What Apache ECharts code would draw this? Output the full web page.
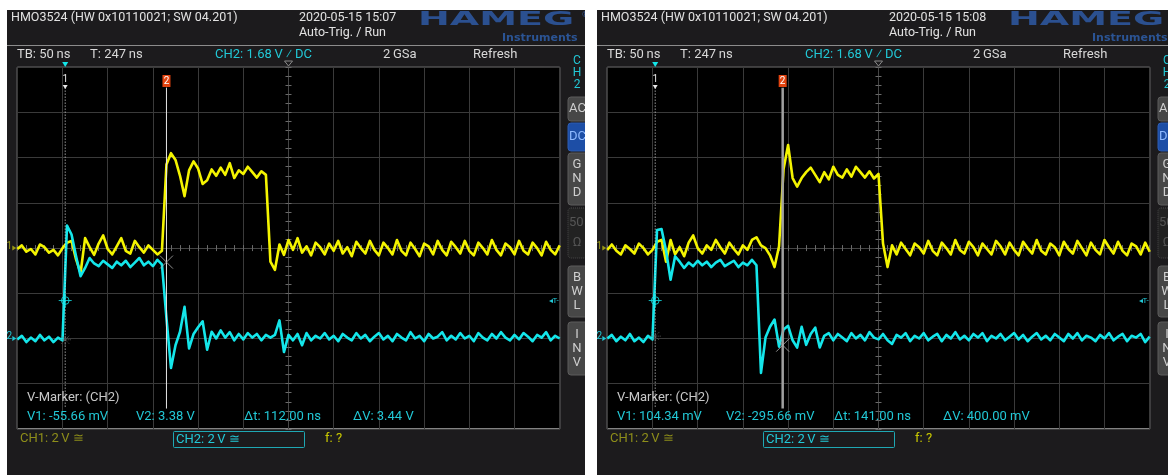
<!DOCTYPE html>
<html>
<head>
<meta charset="utf-8">
<title>HMO3524 screen captures</title>
<script src="https://cdn.jsdelivr.net/npm/echarts@6/dist/echarts.min.js"></script>
<style>
  html, body { margin: 0; padding: 0; background: #fff; }
  #chart { width: 1168px; height: 475px; }
</style>
</head>
<body>
<div id="chart"></div>
<script>
// time axis in ns from screen centre, one sample every 5 ns (TB 50 ns/div, 12 div)
const T_START = -300;
const T_STEP = 5;

// traces, in divisions from screen centre (2 V/div)
const ch1Left = [
  -0.02, 0.06, -0.08, -0.02, -0.14, 0.08, 0.02, -0.10, -0.04, -0.16,
  0.00, 0.12, 0.16, -0.25, -0.55, 0.22, 0.02, -0.15, 0.10, 0.28,
  -0.02, -0.14, 0.04, 0.22, -0.06, -0.12, 0.16, 0.02, -0.10, 0.06,
  -0.04, -0.14, -0.06, 1.85, 2.10, 1.95, 1.60, 1.15, 1.72, 1.92,
  1.76, 1.42, 1.50, 1.74, 1.60, 1.78, 1.62, 1.88, 1.55, 1.72,
  1.64, 1.80, 1.68, 1.56, 1.70, 1.62, -0.30, -0.48, 0.08, -0.15,
  0.18, -0.04, 0.22, -0.10, 0.04, -0.16, 0.12, 0.02, -0.14, 0.10,
  -0.06, 0.16, -0.12, 0.02, -0.18, 0.14, 0.00, -0.12, 0.16, -0.04,
  -0.16, 0.12, 0.00, -0.14, 0.18, -0.06, -0.16, 0.12, -0.02, -0.18,
  0.10, 0.04, -0.14, 0.16, -0.04, -0.16, 0.14, 0.02, -0.12, 0.16,
  -0.06, -0.16, 0.12, 0.00, -0.14, 0.18, -0.04, -0.16, 0.10, 0.02,
  -0.14, 0.16, -0.06, -0.14, 0.12, 0.00, -0.16, 0.14, -0.04, -0.14,
  0.06
];
const ch2Left = [
  -2.02, -1.94, -2.08, -1.98, -2.06, -1.92, -2.04, -1.96, -2.08, -1.98,
  -2.04, 0.50, 0.30, -0.18, -0.62, -0.44, -0.22, -0.34, -0.40, -0.28,
  -0.36, -0.44, -0.30, -0.38, -0.28, -0.42, -0.32, -0.22, -0.38, -0.30,
  -0.40, -0.26, -0.36, -1.55, -2.65, -2.15, -1.85, -1.30, -2.22, -1.90,
  -1.75, -1.62, -2.25, -1.85, -2.00, -1.82, -1.98, -1.86, -2.04, -1.90,
  -2.02, -1.88, -1.98, -1.90, -2.04, -1.92, -1.98, -1.92, -1.60, -2.30,
  -1.92, -2.04, -1.90, -2.15, -1.88, -2.04, -1.94, -2.00, -1.88, -2.02,
  -1.94, -2.06, -1.90, -1.98, -2.04, -1.88, -2.00, -1.92, -2.06, -1.96,
  -1.88, -2.02, -1.94, -2.06, -1.90, -1.98, -2.04, -1.86, -2.00, -1.94,
  -2.06, -1.90, -2.00, -1.96, -1.86, -2.04, -1.94, -2.02, -1.88, -2.00,
  -1.94, -2.06, -1.88, -1.98, -2.04, -1.90, -2.00, -1.86, -1.98, -2.04,
  -1.92, -2.02, -1.88, -1.96, -2.06, -1.92, -1.98, -1.86, -2.04, -1.94,
  -2.00
];
const ch1Right = [
  -0.04, 0.08, -0.06, -0.14, 0.06, -0.02, -0.12, 0.10, 0.00, -0.14,
  -0.04, 0.14, 0.18, -0.30, 0.18, -0.14, 0.02, -0.18, 0.12, 0.28,
  0.00, -0.12, 0.06, -0.04, 0.18, 0.02, -0.12, 0.12, -0.02, -0.14,
  0.06, -0.04, 0.18, 0.24, 0.06, 0.00, -0.16, -0.42, 0.04, 1.75,
  2.28, 1.55, 1.36, 1.55, 1.68, 1.78, 1.62, 1.46, 1.68, 1.52,
  1.80, 1.62, 1.56, 1.74, 1.58, 1.80, 1.68, 1.56, 1.70, 1.54,
  1.64, 0.10, -0.42, 0.06, -0.14, 0.12, -0.02, -0.16, 0.10, 0.02,
  -0.12, 0.16, -0.06, -0.16, 0.12, 0.00, -0.14, 0.18, -0.04, -0.12,
  0.14, 0.02, -0.16, 0.10, -0.02, -0.14, 0.16, 0.04, -0.14, 0.12,
  -0.04, -0.16, 0.14, 0.00, -0.12, 0.18, -0.06, -0.14, 0.10, 0.02,
  -0.16, 0.14, -0.02, -0.12, 0.16, 0.00, -0.16, 0.12, -0.04, -0.14,
  0.18, 0.02, -0.12, 0.14, -0.06, -0.16, 0.10, 0.04, -0.14, 0.12,
  -0.08
];
const ch2Right = [
  -2.00, -1.92, -2.06, -1.96, -2.04, -1.90, -2.06, -1.98, -2.08, -1.94,
  -2.02, 0.40, 0.42, -0.06, -0.70, -0.18, -0.30, -0.44, -0.32, -0.40,
  -0.28, -0.38, -0.30, -0.42, -0.32, -0.26, -0.40, -0.34, -0.28, -0.42,
  -0.32, -0.38, -0.26, -0.38, -2.76, -1.98, -1.74, -1.58, -2.18, -1.80,
  -1.72, -2.04, -2.20, -1.74, -2.14, -1.90, -1.76, -2.20, -1.94, -1.88,
  -2.04, -1.90, -1.98, -2.06, -1.88, -2.00, -1.92, -2.04, -1.86, -1.98,
  -2.02, -1.90, -2.04, -2.12, -1.92, -1.98, -1.88, -2.06, -1.94, -2.00,
  -1.88, -2.04, -1.96, -1.90, -2.06, -1.92, -2.00, -1.86, -2.02, -1.94,
  -2.04, -1.90, -1.98, -1.88, -2.06, -1.94, -2.00, -1.90, -2.04, -1.96,
  -1.88, -2.02, -1.92, -2.06, -1.96, -1.88, -2.02, -1.94, -2.04, -1.90,
  -1.98, -2.06, -1.90, -2.00, -1.88, -2.04, -1.94, -1.98, -2.06, -1.92,
  -2.00, -1.88, -2.04, -1.96, -1.90, -2.06, -1.94, -1.98, -1.90, -2.08,
  -1.96
];

// cursors: time (ns) and CH2 voltage (V)
const markerTimes = [[-247, -135], [-247, -106]];
const markerVolts = [[-0.05566, 3.38], [0.10434, -0.29566]];
const triggerTime = -247;
const triggerLevel = 1.68;
const ch1Pos = 0;   // div
const ch2Pos = -2;  // div
const voltsPerDiv = 2;

const stamps = ['2020-05-15 15:07', '2020-05-15 15:08'];
const readouts = [
  ['V1: -55.66 mV', 'V2: 3.38 V', 'Δt: 112.00 ns', 'ΔV: 3.44 V'],
  ['V1: 104.34 mV', 'V2: -295.66 mV', 'Δt: 141.00 ns', 'ΔV: 400.00 mV']
];

const YELLOW = '#f4f400';
const CYAN = '#14e6ea';
const CYAN_TXT = '#22c8d6';
const PANEL_BG = '#1c1b1d';
const FONT = 'Roboto, "Liberation Sans", sans-serif';
const PANEL_DX = [0, 590];

const pts = arr => arr.map((v, i) => [T_START + i * T_STEP, v]);
const ch2Div = volts => ch2Pos + volts / voltsPerDiv;

const chart = echarts.init(document.getElementById('chart'));

// two axes per direction: one with ticks outward, one inward, both on the centre line
function axes(dim, g) {
  const isX = dim === 'x';
  const base = {
    gridIndex: g, type: 'value',
    min: isX ? -300 : -4, max: isX ? 300 : 4, interval: isX ? 50 : 1,
    position: isX ? 'bottom' : 'left',
    axisLabel: { show: false },
    axisLine: { show: true, onZero: true, lineStyle: { color: '#454545' } },
    axisTick: { show: true, length: 3, lineStyle: { color: '#6a6a6a' } },
    minorTick: { show: true, splitNumber: 5, length: 3, lineStyle: { color: '#6a6a6a' } },
    splitLine: { show: true, lineStyle: { color: '#3a3a3a', width: 1 } }
  };
  const inner = JSON.parse(JSON.stringify(base));
  inner.axisTick.inside = true;
  inner.splitLine.show = false;
  return [base, inner];
}

const series = [];
[[ch1Left, ch2Left], [ch1Right, ch2Right]].forEach(([c1, c2], p) => {
  const ax = { xAxisIndex: 2 * p, yAxisIndex: 2 * p };
  const [t1, t2] = markerTimes[p];
  const [v1, v2] = markerVolts[p];
  series.push(
    { ...ax, type: 'line', data: pts(c1), symbol: 'none', z: 3,
      lineStyle: { color: YELLOW, width: 2.6, join: 'round' } },
    { ...ax, type: 'line', data: pts(c2), symbol: 'none', z: 4,
      lineStyle: { color: CYAN, width: 2.6, join: 'round' } },
    { ...ax, type: 'line', data: [[t1, 3.55], [t1, -3.55]], symbol: 'none', z: 5,
      lineStyle: { color: '#e0e0e0', width: 1, type: [1, 2] } },
    { ...ax, type: 'line', data: [[t2, 3.55], [t2, -3.55]], symbol: 'none', z: 5,
      lineStyle: p === 0 ? { color: '#e6e6e6', width: 1 } : { color: '#a0a0a0', width: 2.5 } },
    { ...ax, type: 'scatter', z: 6, data: [[t2, ch2Div(v2)]], symbol: 'path://M0,0L10,10M10,0L0,10',
      symbolSize: 13, itemStyle: { color: 'none', borderColor: '#b0b0b0', borderWidth: 1 } },
    { ...ax, type: 'scatter', z: 6, data: [[t1, ch2Div(v1)]],
      symbol: 'path://M0,0L10,10M10,0L0,10M5,-2L5,12M-2,5L12,5',
      symbolSize: 11, itemStyle: { color: 'none', borderColor: '#707070', borderWidth: 1, borderType: [1, 1] } },
    { ...ax, type: 'scatter', z: 6, data: [[triggerTime, ch2Div(triggerLevel)]],
      symbol: 'path://M10,4A6,6 0 1 1 10,16A6,6 0 1 1 10,4ZM10,0L10,20M0,10L20,10',
      symbolSize: 13, itemStyle: { color: 'none', borderColor: CYAN, borderWidth: 1 } }
  );
});

chart.setOption({
  animation: false,
  backgroundColor: '#fff',
  grid: PANEL_DX.map(dx => ({
    left: 17.3 + dx, top: 67.3, width: 542.4, height: 361.6,
    show: true, backgroundColor: '#000', borderColor: '#d4d4d4', borderWidth: 1
  })),
  xAxis: [].concat(axes('x', 0), axes('x', 1)),
  yAxis: [].concat(axes('y', 0), axes('y', 1)),
  series
});

// ---- screen furniture (text, buttons, cursor tags) ----
const txt = (x, y, s, fill, size, align, extra) => Object.assign({
  type: 'text', x, y, z: 50,
  style: { text: s, fill, font: (size || 13) + 'px ' + FONT, align: align || 'left', verticalAlign: 'middle' }
}, extra || {});

const buttons = [
  { y: 97, h: 24, lines: ['AC'] },
  { y: 123, h: 28, lines: ['DC'], active: true },
  { y: 153, h: 52, lines: ['G', 'N', 'D'] },
  { y: 208, h: 50, lines: ['50', 'Ω'], dim: true },
  { y: 266, h: 51, lines: ['B', 'W', 'L'] },
  { y: 322, h: 53, lines: ['I', 'N', 'V'] }
];

const els = [];
PANEL_DX.forEach((dx, p) => {
  els.push({ type: 'rect', z: -5, shape: { x: 7 + dx, y: 10, width: 578, height: 465 }, style: { fill: PANEL_BG } });
  els.push({ type: 'line', z: 20, shape: { x1: 7 + dx, y1: 45.5, x2: 585 + dx, y2: 45.5 }, style: { stroke: '#8c8c8c', lineWidth: 1 } });

  // header
  els.push(txt(11 + dx, 18, 'HMO3524 (HW 0x10110021; SW 04.201)', '#e2e2e2', 12.5));
  els.push(txt(299 + dx, 18, stamps[p], '#e2e2e2', 12.5));
  els.push(txt(299 + dx, 33, 'Auto-Trig. / Run', '#e2e2e2', 12.5));
  els.push({ type: 'text', z: 50, x: 418 + dx, y: 20, scaleX: 2.0,
    style: { text: 'HAMEG', fill: '#2b5090', font: '900 19px "DejaVu Sans"', verticalAlign: 'middle' } });
  els.push(txt(582 + dx, 15, '®', '#3a5c9c', 8));
  els.push({ type: 'text', z: 50, x: 502 + dx, y: 38,
    style: { text: 'Instruments', fill: '#2b5494', font: 'bold 11px "DejaVu Sans"', verticalAlign: 'middle' } });

  els.push(txt(17 + dx, 55, 'TB: 50\u2009ns', '#d8d8d8', 13));
  els.push(txt(90 + dx, 55, 'T: 247\u2009ns', '#d8d8d8', 13));
  els.push(txt(215 + dx, 55, 'CH2: 1.68\u2009V ⁄ DC', CYAN_TXT, 13));
  els.push(txt(383 + dx, 55, '2\u2009GSa', '#d8d8d8', 13));
  els.push(txt(473 + dx, 55, 'Refresh', '#d8d8d8', 13));
  ['C', 'H', '2'].forEach((c, i) => els.push(txt(577 + dx, 61 + i * 12, c, CYAN_TXT, 12, 'center')));

  // side buttons
  buttons.forEach(b => {
    els.push({ type: 'rect', z: 30, shape: { x: 568 + dx, y: b.y, width: 20, height: b.h, r: 3 },
      style: b.active ? { fill: '#1d4ea6', stroke: '#2c5cb4' }
        : b.dim ? { fill: '#222', stroke: '#4a4a4a', lineDash: [1, 1] }
        : { fill: '#474747', stroke: '#5c5c5c' } });
    const step = b.lines.length === 2 ? 20 : 14;
    const c = b.y + b.h / 2;
    b.lines.forEach((s, i) => {
      const y = c + (i - (b.lines.length - 1) / 2) * step;
      const fill = b.active ? '#8fbaff' : b.dim ? '#555' : '#cfcfcf';
      els.push(txt(s.length > 1 ? 569 + dx : 577 + dx, y, s, fill, 13, s.length > 1 ? 'left' : 'center'));
    });
  });

  // readouts
  els.push(txt(27 + dx, 398, 'V-Marker: (CH2)', '#c8c8c8', 13));
  [27, 136, 244, 353].forEach((x, i) => els.push(txt(x + dx, 417, readouts[p][i], CYAN_TXT, 13)));
  els.push(txt(20 + dx, 439, 'CH1: 2\u2009V ≅', '#8e8e1a', 13));
  els.push({ type: 'rect', z: 40, shape: { x: 173.5 + dx, y: 431.5, width: 131, height: 16, r: 1 },
    style: { fill: 'none', stroke: '#1fa8b4', lineWidth: 1 } });
  els.push(txt(176 + dx, 439.5, 'CH2: 2\u2009V ≅', CYAN_TXT, 13));
  els.push(txt(325 + dx, 439, 'f: ?', '#c8c800', 13));

  // cursor tags and level markers, placed through the grid's own scales
  const px = v => chart.convertToPixel({ gridIndex: p }, v);
  const [t1, t2] = markerTimes[p];
  const m1 = px([t1, 0])[0], m2 = px([t2, 0])[0];
  els.push(txt(m1, 79, '1', '#e8e8e8', 10, 'center'));
  els.push({ type: 'polygon', z: 50, shape: { points: [[m1 - 2.5, 85], [m1 + 2.5, 85], [m1, 89]] }, style: { fill: '#e8e8e8' } });
  els.push({ type: 'rect', z: 50, shape: { x: m2 - 4, y: 75, width: 8, height: 12 }, style: { fill: '#e2430f' } });
  els.push(txt(m2, 81, '2', '#fff', 10, 'center'));
  const trigX = px([triggerTime, 0])[0];
  els.push({ type: 'polygon', z: 50, shape: { points: [[trigX - 3, 62], [trigX + 3, 62], [trigX, 67]] }, style: { fill: CYAN } });
  const cx = px([0, 0])[0];
  els.push({ type: 'polygon', z: 50, shape: { points: [[cx - 4, 61], [cx + 4, 61], [cx, 66]] }, style: { fill: 'none', stroke: '#8a8a8a' } });
  const y1 = px([0, ch1Pos])[1], y2 = px([0, ch2Pos])[1];
  const left = px([-300, 0])[0], right = px([300, 0])[0];
  els.push(txt(left - 8, y1 - 2, '1', '#9a9a18', 10, 'center'));
  els.push({ type: 'polygon', z: 50, shape: { points: [[left - 5, y1 - 2.5], [left - 1, y1], [left - 5, y1 + 2.5]] }, style: { fill: '#9a9a18' } });
  els.push(txt(left - 8, y2 - 2, '2', CYAN_TXT, 10, 'center'));
  els.push({ type: 'polygon', z: 50, shape: { points: [[left - 5, y2 - 2.5], [left - 1, y2], [left - 5, y2 + 2.5]] }, style: { fill: CYAN_TXT } });
  const ty = px([0, ch2Div(triggerLevel)])[1];
  els.push(txt(right - 1, ty, '◂T-', CYAN_TXT, 8, 'right'));
});
// white strip between the two captures hides anything spilling over
els.push({ type: 'rect', z: 90, shape: { x: 585, y: 0, width: 12, height: 475 }, style: { fill: '#fff' } });

chart.setOption({ graphic: { elements: els } });
</script>
</body>
</html>
